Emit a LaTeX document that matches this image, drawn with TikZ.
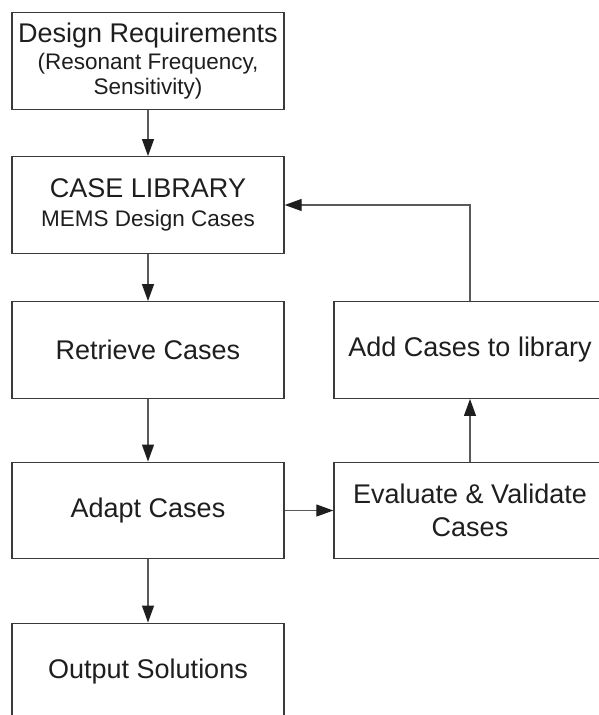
\documentclass[tikz,border=0pt]{standalone}
\usepackage{fontspec}
\setmainfont{Liberation Sans}
\usetikzlibrary{arrows.meta}
\definecolor{boxline}{HTML}{3A3A3A}
\definecolor{linkline}{HTML}{5A5A5A}
\definecolor{inkc}{HTML}{1E1E1E}
\newcommand{\bigtxt}{\fontsize{27}{31}\selectfont}
\newcommand{\smalltxt}{\fontsize{22.5}{25}\selectfont}
\begin{document}
\begin{tikzpicture}[x=1pt,y=-1pt,
  stagebox/.style={draw=boxline,line width=1.4pt,minimum width=272pt,minimum height=96.5pt,
    inner sep=0pt,align=center,text=inkc,font=\bigtxt},
  twoline/.style={stagebox,font=\smalltxt},
  link/.style={draw=linkline,line width=1.2pt,-{Triangle[length=17pt,width=12pt,color=inkc]}}]
  \useasboundingbox (0,0) rectangle (599,715);
  \clip (0,0) rectangle (599,715);

  % main column
  \node[twoline] (req) at (148,61)
    {{\bigtxt Design Requirements}\\[2pt](Resonant Frequency,\\Sensitivity)};
  \node[twoline] (lib) at (148,205)
    {{\bigtxt CASE LIBRARY}\\[4pt]MEMS Design Cases};
  \node[stagebox] (ret) at (148,350) {Retrieve Cases};
  \node[stagebox] (adapt) at (148,510.5) {Adapt Cases};
  \node[stagebox] (out) at (148,671.5) {Output Solutions};

  % feedback column
  \node[stagebox] (add) at (470,350) {Add Cases to library};
  \node[stagebox] (eval) at (470,510.5) {Evaluate \& Validate\\[2pt]Cases};

  % connectors
  \draw[link] (req) -- (lib);
  \draw[link] (lib) -- (ret);
  \draw[link] (ret) -- (adapt);
  \draw[link] (adapt) -- (out);
  \draw[link] (adapt.east) -- (eval.west);
  \draw[link] (eval) -- (add);
  \draw[link] (add.north) |- (lib.east);
\end{tikzpicture}
\end{document}
